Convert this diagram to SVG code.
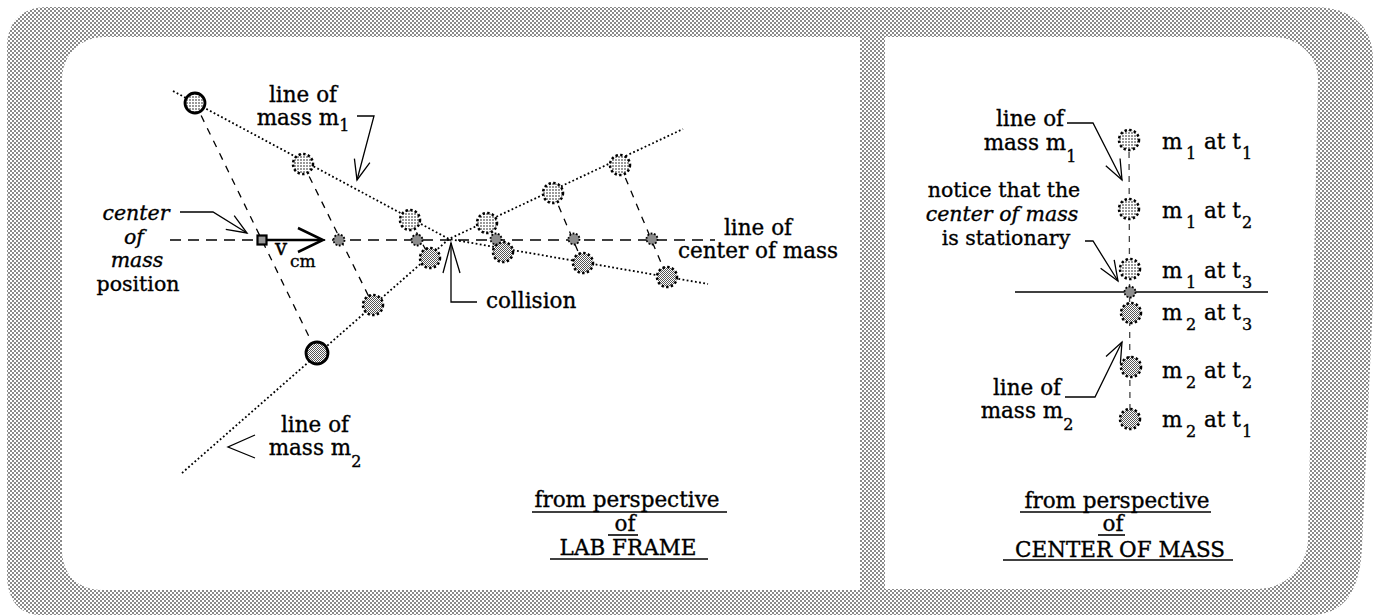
<svg xmlns="http://www.w3.org/2000/svg" width="1376" height="615" viewBox="0 0 1376 615">
<defs>
<pattern id="frameChk" width="4" height="4" patternUnits="userSpaceOnUse"><rect width="4" height="4" fill="#fff"/><rect width="2" height="2" fill="#8a8a8a"/><rect x="2" y="2" width="2" height="2" fill="#8a8a8a"/></pattern>
<pattern id="m1fill" width="3" height="3" patternUnits="userSpaceOnUse"><rect width="3" height="3" fill="#fff"/><rect width="2" height="2" fill="#999"/></pattern>
<pattern id="m2fill" width="2" height="2" patternUnits="userSpaceOnUse"><rect width="2" height="2" fill="#fff"/><rect width="1" height="1" fill="#555"/><rect x="1" y="1" width="1" height="1" fill="#555"/></pattern>
<marker id="open" viewBox="-22 -10 24 20" refX="0" refY="0" markerWidth="24" markerHeight="20" markerUnits="userSpaceOnUse" orient="auto"><path d="M-20,-8 L0,0 L-20,8" fill="none" stroke="#000" stroke-width="1.3"/></marker>
</defs>
<style>
text{font-family:"DejaVu Serif",serif;font-size:21.5px;fill:#000;stroke:#000;stroke-width:0.35}
.it{font-style:italic}
.sm{font-size:20.5px}
.sub{font-size:16px}
.mid{text-anchor:middle}
.traj{fill:none;stroke:#000;stroke-width:1.8;stroke-dasharray:1.8 2.4}
.tie{fill:none;stroke:#000;stroke-width:1.3;stroke-dasharray:7 7}
.tie2{fill:none;stroke:#444;stroke-width:1.3;stroke-dasharray:6 6}
.cmline{fill:none;stroke:#000;stroke-width:1.5;stroke-dasharray:11 7}
.lead{fill:none;stroke:#000;stroke-width:1.3}
.m1{fill:url(#m1fill);stroke:#000;stroke-width:2.5;stroke-dasharray:2.4 2.3}
.m2{fill:url(#m2fill);stroke:#000;stroke-width:2.5;stroke-dasharray:2.4 2.3}
.big{stroke-width:2.8;stroke-dasharray:none}
.cm{fill:#8c8c8c;stroke:#000;stroke-width:1.8;stroke-dasharray:1.8 1.6}
.ul{stroke:#000;stroke-width:1.6}
</style>

<g id="frame">
<path fill="url(#frameChk)" d="M 47,7 H 1313 C 1350,7 1373,25 1373,60 V 300 L 1362,547 C 1360,590 1345,615 1310,615 H 40 C 20,615 7,600 7,575 V 47 C 7,22 22,7 47,7 Z"/>
<path fill="#fff" d="M 105,37 H 860 V 590 H 102 C 78,590 62,574 62,550 V 80 C 62,55 80,37 105,37 Z"/>
<path fill="#fff" d="M 885,37 H 1273 C 1298,37 1318,55 1318,80 L 1308,540 C 1307,566 1286,589 1257,589 H 885 Z"/>
</g>

<g id="connectors">
<polyline class="traj" points="173,91 449,239 708,284"/>
<polyline class="traj" points="182,473 449,239 683,129"/>
<line class="cmline" x1="170" y1="240" x2="715" y2="240"/>
<line class="tie" x1="195" y1="103" x2="317" y2="353"/>
<line class="tie" x1="303" y1="164" x2="373" y2="305"/>
<line class="tie" x1="410" y1="220" x2="430" y2="258"/>
<line class="tie" x1="487" y1="223" x2="503" y2="252"/>
<line class="tie" x1="553" y1="193" x2="583" y2="263"/>
<line class="tie" x1="620" y1="165" x2="667" y2="277"/>
<line class="tie2" x1="1129" y1="140" x2="1130" y2="419"/>
<line x1="1015" y1="292" x2="1268" y2="292" stroke="#000" stroke-width="1.5"/>
<g id="vcm-arrow">
<line x1="267" y1="240" x2="322" y2="240" stroke="#000" stroke-width="2.5"/>
<polyline points="298,228 323,240 298,252" fill="none" stroke="#000" stroke-width="2.5"/>
</g>
<polyline class="lead" points="357,116 374,116 357,180" marker-end="url(#open)"/>
<polyline class="lead" points="180,212 213,212 247,233" marker-end="url(#open)"/>
<polyline class="lead" points="477,302 451,302 451,243"/>
<polyline class="lead" points="443,273 451,243 460,273"/>
<polyline class="lead" points="255,435 228,447 255,458"/>
<polyline class="lead" points="1067,123 1093,123 1122,180" marker-end="url(#open)"/>
<polyline class="lead" points="1085,241 1093,241 1118,281" marker-end="url(#open)"/>
<polyline class="lead" points="1065,397 1095,397 1122,342" marker-end="url(#open)"/>
</g>

<g id="lab-m1">
<circle class="m1 big" cx="195" cy="103" r="10"/>
<circle class="m1" cx="303" cy="164" r="10"/>
<circle class="m1" cx="410" cy="220" r="10"/>
<circle class="m1" cx="487" cy="223" r="10"/>
<circle class="m1" cx="553" cy="193" r="10"/>
<circle class="m1" cx="620" cy="165" r="10"/>
</g>
<g id="lab-m2">
<circle class="m2 big" cx="317" cy="353" r="11"/>
<circle class="m2" cx="373" cy="305" r="10"/>
<circle class="m2" cx="430" cy="258" r="10"/>
<circle class="m2" cx="503" cy="252" r="10"/>
<circle class="m2" cx="583" cy="263" r="10"/>
<circle class="m2" cx="667" cy="277" r="10"/>
</g>
<g id="lab-cm">
<rect x="257.5" y="235.5" width="9" height="9" fill="#999" stroke="#000" stroke-width="2.2"/>
<circle class="cm" cx="339" cy="240" r="5.5"/>
<circle class="cm" cx="417" cy="240" r="5.5"/>
<circle class="cm" cx="496" cy="239" r="5.5"/>
<circle class="cm" cx="574" cy="239" r="5.5"/>
<circle class="cm" cx="652" cy="239" r="5.5"/>
</g>
<g id="cm-m1">
<circle class="m1" cx="1129" cy="140" r="10"/>
<circle class="m1" cx="1129" cy="209" r="10"/>
<circle class="m1" cx="1130" cy="269" r="10"/>
</g>
<g id="cm-point"><circle class="cm" cx="1130" cy="292" r="5.5"/></g>
<g id="cm-m2">
<circle class="m2" cx="1131" cy="313" r="10"/>
<circle class="m2" cx="1131" cy="367" r="10"/>
<circle class="m2" cx="1130" cy="419" r="10"/>
</g>

<g id="lab-labels">
<text class="mid" x="303" y="102">line of</text>
<text class="mid" x="303" y="125">mass m<tspan class="sub" dy="6">1</tspan></text>
<text class="mid it sm" x="136" y="220">center</text>
<text class="mid it sm" x="134" y="244">of</text>
<text class="mid it sm" x="137" y="267">mass</text>
<text class="mid sm" x="138" y="291">position</text>
<text x="275" y="255">v</text>
<text x="290" y="267" style="font-size:17px">cm</text>
<text class="mid" x="758" y="235">line of</text>
<text class="mid" x="758" y="258">center of mass</text>
<text x="486" y="308">collision</text>
<text class="mid" x="315" y="432">line of</text>
<text class="mid" x="315" y="455">mass m<tspan class="sub" dy="12">2</tspan></text>
<text class="mid" x="627" y="507">from perspective</text>
<text class="mid" x="625" y="531">of</text>
<text class="mid" x="628" y="555">LAB FRAME</text>
<line class="ul" x1="532" y1="512" x2="727" y2="512"/>
<line class="ul" x1="608" y1="535" x2="638" y2="535"/>
<line class="ul" x1="550" y1="559" x2="708" y2="559"/>
</g>

<g id="cm-labels">
<text class="mid" x="1030" y="126">line of</text>
<text class="mid" x="1030" y="150">mass m<tspan class="sub" dy="12">1</tspan></text>
<text class="mid sm" x="1004" y="197">notice that the</text>
<text class="mid it sm" x="1002" y="221">center of mass</text>
<text class="mid sm" x="1006" y="245">is stationary</text>
<text class="mid" x="1027" y="395">line of</text>
<text class="mid" x="1027" y="418">mass m<tspan class="sub" dy="12">2</tspan></text>
<text y="149"><tspan x="1162">m</tspan><tspan class="sub" x="1186" dy="10">1</tspan><tspan x="1204" dy="-10">at t</tspan><tspan class="sub" x="1242" dy="10">1</tspan></text>
<text y="218"><tspan x="1162">m</tspan><tspan class="sub" x="1186" dy="10">1</tspan><tspan x="1204" dy="-10">at t</tspan><tspan class="sub" x="1242" dy="10">2</tspan></text>
<text y="278"><tspan x="1162">m</tspan><tspan class="sub" x="1186" dy="10">1</tspan><tspan x="1204" dy="-10">at t</tspan><tspan class="sub" x="1242" dy="10">3</tspan></text>
<text y="320"><tspan x="1162">m</tspan><tspan class="sub" x="1186" dy="10">2</tspan><tspan x="1204" dy="-10">at t</tspan><tspan class="sub" x="1242" dy="10">3</tspan></text>
<text y="378"><tspan x="1162">m</tspan><tspan class="sub" x="1186" dy="10">2</tspan><tspan x="1204" dy="-10">at t</tspan><tspan class="sub" x="1242" dy="10">2</tspan></text>
<text y="427"><tspan x="1162">m</tspan><tspan class="sub" x="1186" dy="10">2</tspan><tspan x="1204" dy="-10">at t</tspan><tspan class="sub" x="1242" dy="10">1</tspan></text>
<text class="mid" x="1117" y="508">from perspective</text>
<text class="mid" x="1113" y="531">of</text>
<text class="mid" x="1120" y="557">CENTER OF MASS</text>
<line class="ul" x1="1020" y1="512" x2="1211" y2="512"/>
<line class="ul" x1="1098" y1="535" x2="1125" y2="535"/>
<line class="ul" x1="1003" y1="560" x2="1233" y2="560"/>
</g>
</svg>
